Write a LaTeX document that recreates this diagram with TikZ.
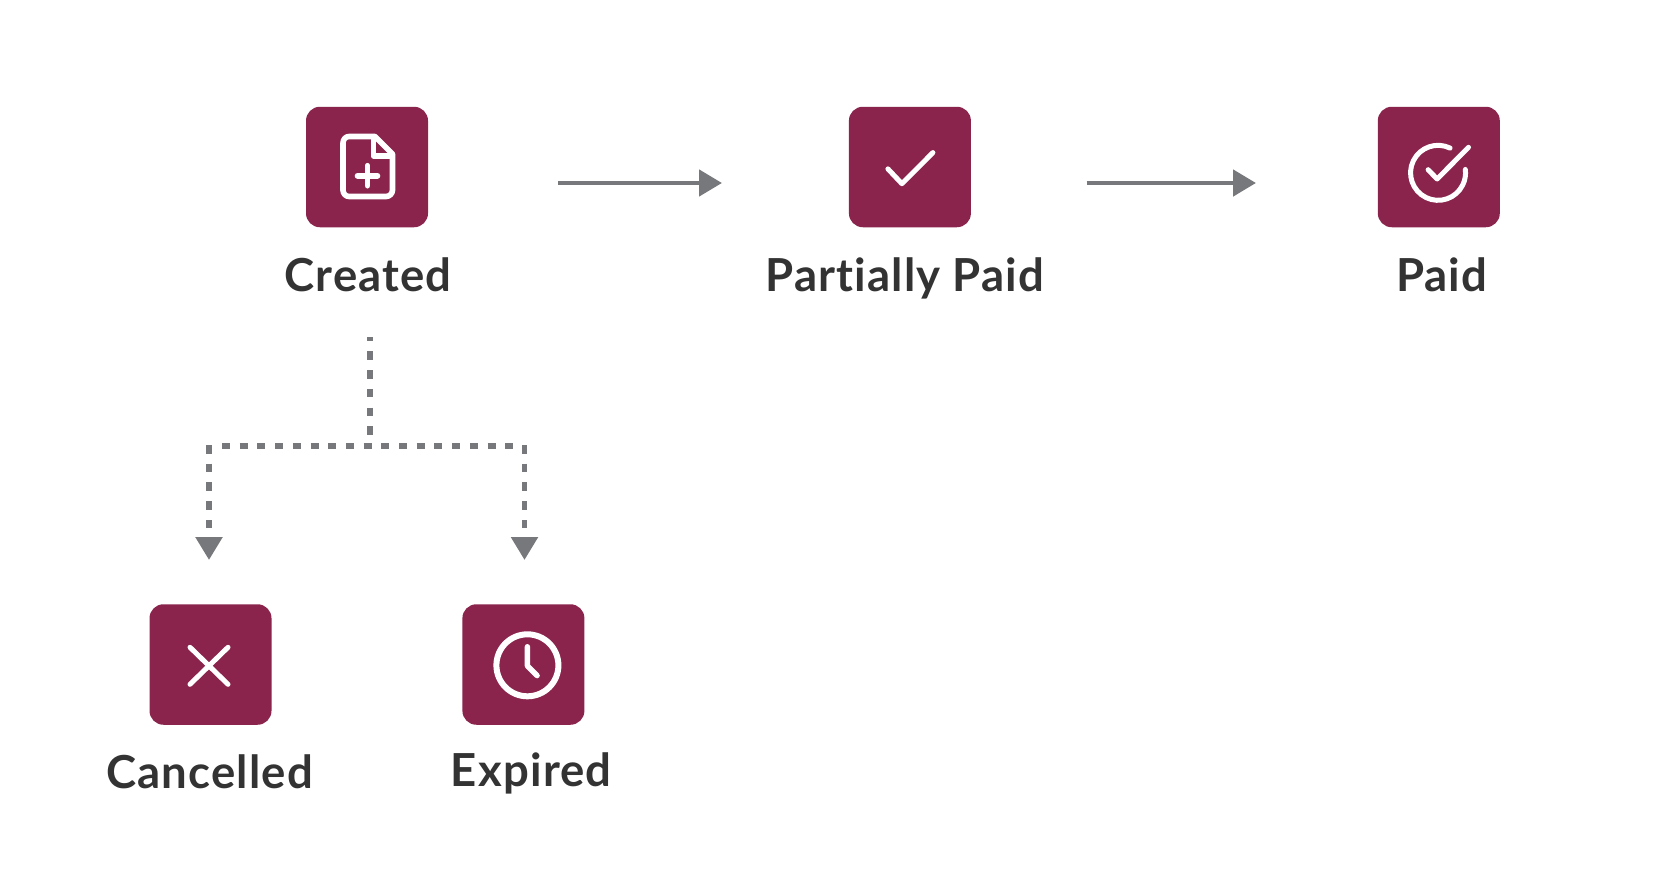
\documentclass[tikz,border=0pt]{standalone}
\usepackage{fontspec}
\setmainfont{Lato}[Ligatures=NoCommon, LetterSpace=2.6]
\usetikzlibrary{positioning,arrows.meta}
\definecolor{statered}{HTML}{8A244C}
\definecolor{linegray}{HTML}{77787B}
\definecolor{labelgray}{HTML}{333333}

\begin{document}
\begin{tikzpicture}[
    statebox/.style={rectangle, fill=statered, rounded corners=14pt, minimum width=122pt, minimum height=120.5pt, inner sep=0pt},
    statelabel/.style={text=labelgray, inner sep=0pt, font=\bfseries\fontsize{45.5}{50}\selectfont},
    arrow/.style={-{Triangle[length=23pt, width=26pt]}, line width=4.8pt, linegray},
    dashedline/.style={line width=5.4pt, linegray, dash pattern=on 8.6pt off 10.1pt},
    dashedarrow/.style={dashedline, -{Triangle[length=23pt, width=26pt]}},
    icon/.style={draw=white, line width=5pt, line cap=round, line join=round}
]
\useasboundingbox (0pt,0pt) rectangle (1672pt,-894pt);

% Boxes
\node[statebox] (created) at (367pt,-167pt) {};
\node[statebox, right=420.5pt of created] (partial) {};
\node[statebox, right=406.5pt of partial] (paid) {};
\node[statebox] (cancelled) at (210.5pt,-664.5pt) {};
\node[statebox, right=190.5pt of cancelled] (expired) {};

% Labels
\node[statelabel, below=30pt of created, xshift=1pt] (createdlabel) {Created};
\node[statelabel, below=30pt of partial, xshift=-5pt] (partiallabel) {Partially Paid};
\node[statelabel, below=30pt of paid, xshift=3pt] (paidlabel) {Paid};
\node[statelabel, below=30pt of cancelled, xshift=-1pt] (cancelledlabel) {Cancelled};
\node[statelabel, below=28pt of expired, xshift=8pt] (expiredlabel) {Expired};

% Arrow ends
\coordinate (createdout) at (558pt,-183pt);
\coordinate (partialin) at (722pt,-183pt);
\coordinate (partialout) at (1086.5pt,-183pt);
\coordinate (paidin) at (1256pt,-183pt);

\coordinate (branchtop) at (370pt,-337pt);
\coordinate (branch) at (370pt,-436pt);
\coordinate (branchleft) at (222pt,-446pt);
\coordinate (branchright) at (512.5pt,-446pt);
\coordinate (cancelledout) at (209pt,-445pt);
\coordinate (expiredout) at (524.5pt,-445pt);
\coordinate (cancelledin) at (209pt,-560pt);
\coordinate (expiredin) at (524.5pt,-560pt);

% Arrows
\draw[arrow] (createdout) -- (partialin);
\draw[arrow] (partialout) -- (paidin);
\draw[dashedline, dash phase=4.3pt] (branchtop) -- (branch);
\draw[dashedline, dash pattern=on 8pt off 9.7pt] (branchleft) -- (branchright);
\draw[dashedarrow] (cancelledout) -- (cancelledin);
\draw[dashedarrow] (expiredout) -- (expiredin);

% Icons
\begin{scope}[shift={(created.center)}, icon, line width=5.6pt]
  \draw (8pt,30.5pt) -- (-18pt,30.5pt) to[out=180, in=90] (-24pt,24pt) -- (-24pt,-23pt) to[out=-90, in=180] (-18pt,-29.5pt) -- (19pt,-29.5pt) to[out=0, in=-90] (25.5pt,-23pt) -- (25.5pt,13pt) -- cycle;
  \draw (6.5pt,28pt) -- (6.5pt,11pt) -- (25pt,11pt);
  \draw (-9.5pt,-8.7pt) -- (10.5pt,-8.7pt);
  \draw (0.5pt,-18.7pt) -- (0.5pt,1.3pt);
\end{scope}
\begin{scope}[shift={(partial.center)}, icon]
  \draw (-22pt,-1.9pt) -- (-8pt,-16.7pt) -- (23pt,14.4pt);
\end{scope}
\begin{scope}[shift={(paid.center)}, icon]
  \draw (11.3pt,18.9pt) arc[start angle=64, end angle=367, radius=27.5pt];
  \draw (-10.7pt,-2.7pt) -- (-1.7pt,-12pt) -- (29.7pt,19.7pt);
\end{scope}
\begin{scope}[shift={(cancelled.center)}, icon]
  \draw (-20.5pt,17.2pt) -- (17.5pt,-19.8pt);
  \draw (17.5pt,17.2pt) -- (-20.5pt,-19.8pt);
\end{scope}
\begin{scope}[shift={(expired.center)}, icon]
  \draw[line width=6pt] (4pt,-0.8pt) circle[radius=31pt];
  \draw[line width=5.4pt] (4pt,17.8pt) -- (4pt,-1.4pt) -- (13.7pt,-11.1pt);
\end{scope}

\end{tikzpicture}
\end{document}
